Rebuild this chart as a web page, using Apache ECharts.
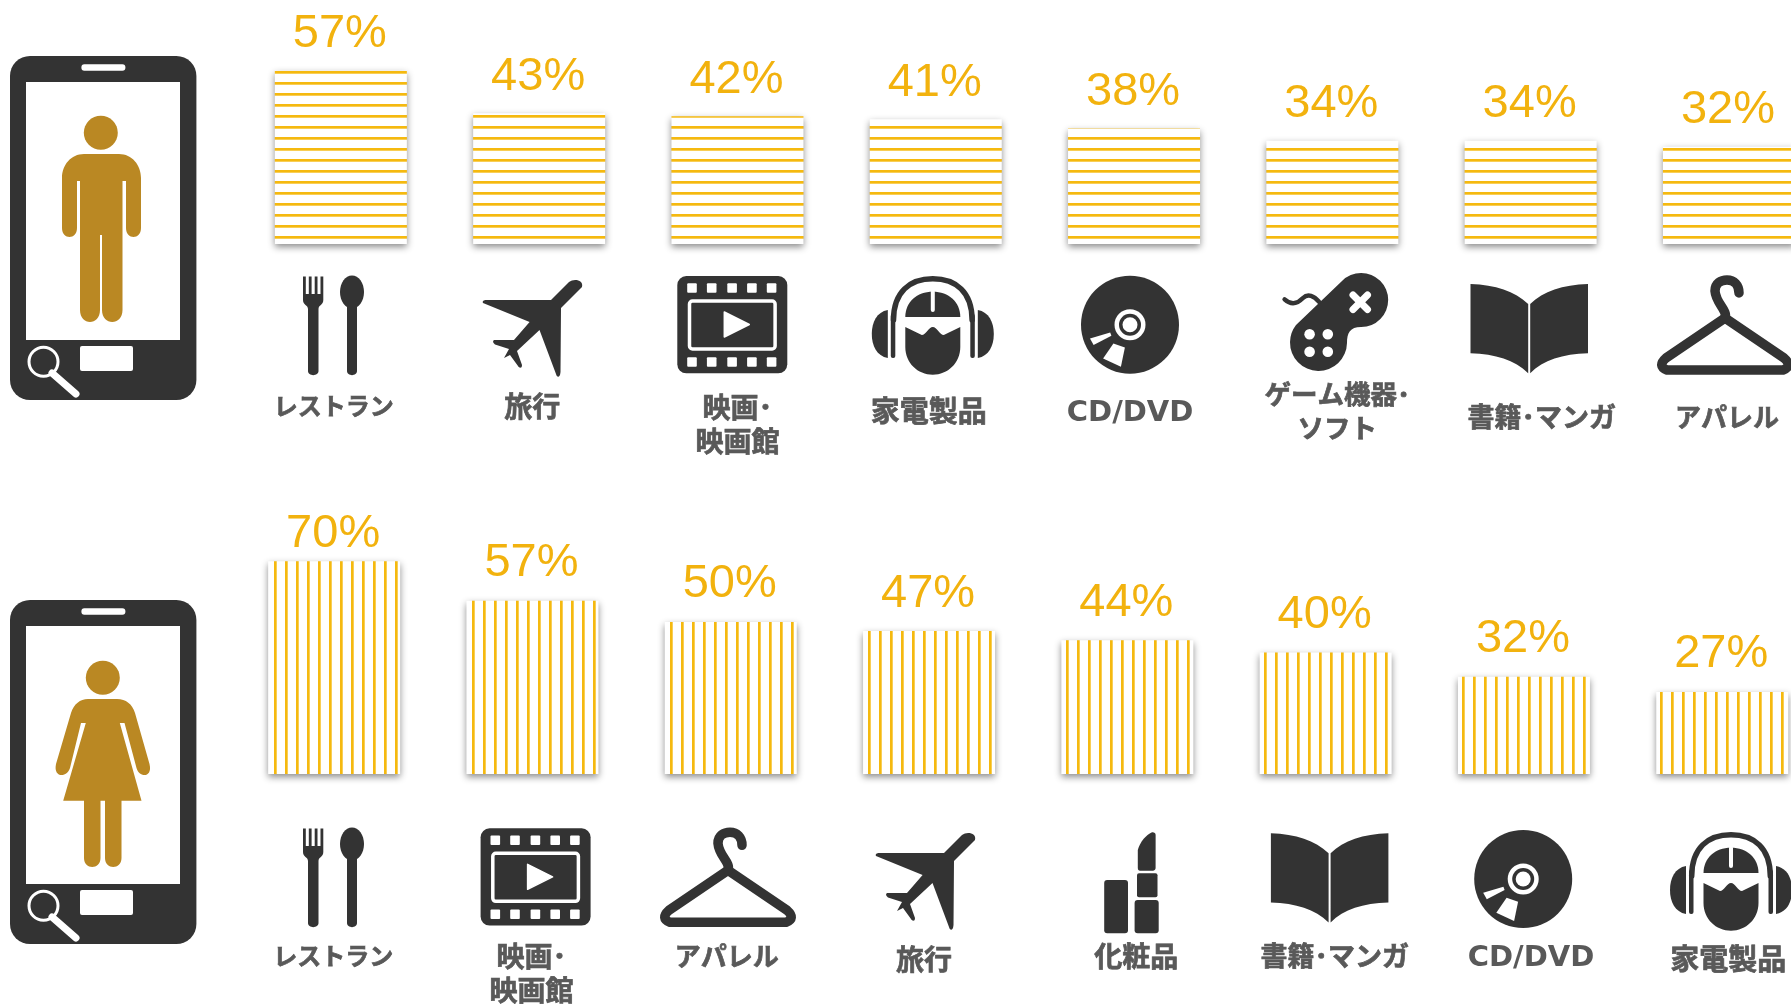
<!DOCTYPE html>
<html><head><meta charset="utf-8">
<style>html,body{margin:0;padding:0;background:#fff}#c{width:1791px;height:1004px}</style>
<script src="https://cdn.jsdelivr.net/npm/echarts@6/dist/echarts.min.js"></script>
</head><body><div id="c"></div>
<script>
// ---- data ----
const maleCategories = ['レストラン','旅行','映画･\n映画館','家電製品','CD/DVD','ゲーム機器･\nソフト','書籍･マンガ','アパレル'];
const maleValues = [57,43,42,41,38,34,34,32];
const femaleCategories = ['レストラン','映画･\n映画館','アパレル','旅行','化粧品','書籍･マンガ','CD/DVD','家電製品'];
const femaleValues = [70,57,50,47,44,40,32,27];

// ---- label tweaks: [dx, first-line centre y, font size] by label ----
const maleLabelLayout = [[-7,406,24],[-7,406,28],[0,407,28],[-7,411,29],[-4,413,29],[5,394,26.5],[11,417,27],[-2,417,26]];
const femaleLabelLayout = [[-1,956,24],[-1,956,28],[-4,956,26],[-5,959,28],[9,956,28],[9,956,27],[7,958,29],[6,959,29]];
const maleLabelGap = [13,13,13,13,13,13,13,13];
const femaleLabelGap = [4,14,14,14,14,14,14,14];

const DARK='#333333', GOLD='#BA8823', YEL='#F5B90F', LBL='#F2B20E', TXT='#595959';

function pattern(horizontal){
  const c=document.createElement('canvas');c.width=11;c.height=11;
  const g=c.getContext('2d');g.fillStyle='#fff';g.fillRect(0,0,11,11);g.fillStyle=YEL;
  if(horizontal){g.fillRect(0,5,11,2.7);}
  else{g.fillRect(10,0,1,11);g.fillRect(0,0,1.7,11);}
  return {image:c,repeat:'repeat'};
}
function catData(names,layout,axisY,margin){
  return names.map((n,i)=>{
    const [dx,cy,fs]=layout[i];
    const padTop=cy-17-axisY-margin;
    const isLatin=/^[A-Z\/]+$/.test(n);
    return {value:n,textStyle:{
      fontSize:fs,
      fontFamily:isLatin?'DejaVu Sans':'Noto Sans CJK JP',
      padding:[padTop,dx<0?-2*dx:0,0,dx>0?2*dx:0],
      textBorderColor:TXT,textBorderWidth:isLatin?0:0.7
    }};
  });
}
function xAxis(gridIndex,names,layout,axisY){
  return {type:'category',gridIndex,data:catData(names,layout,axisY,100),
    axisLine:{show:false},axisTick:{show:false},splitLine:{show:false},
    axisLabel:{show:true,interval:0,margin:100,color:TXT,fontWeight:'bold',lineHeight:34,align:'center',verticalAlign:'top',hideOverlap:false}};
}
function yAxis(gridIndex){return {type:'value',gridIndex,min:0,max:80,show:false};}
function series(i,values,horizontal,gaps){
  return {type:'bar',xAxisIndex:i,yAxisIndex:i,
    data:values.map((v,k)=>({value:v,label:{distance:gaps[k]}})),
    barWidth:132,animation:false,silent:true,
    itemStyle:{color:pattern(horizontal),shadowColor:'rgba(0,0,0,0.45)',shadowBlur:7,shadowOffsetY:3},
    label:{show:true,position:'top',offset:[-1,0],formatter:'{c}%',fontFamily:'Liberation Sans',fontSize:47,color:LBL}};
}

// ---- icons ----
let shapeNo=0;
function pathType(d){
  const name='iconPath'+(shapeNo++);
  echarts.graphic.registerShape(name,echarts.graphic.extendPath(d,{}));
  return name;
}
const dark=(d,extra)=>({type:pathType(d),style:Object.assign({fill:DARK},extra||{})});
const white=(d)=>({type:pathType(d),style:{fill:'#fff'}});
const line=(d,w,color)=>({type:pathType(d),style:{fill:null,stroke:color||DARK,lineWidth:w,lineCap:'round',lineJoin:'round'}});
const rect=(x,y,w,h,r,fill)=>({type:'rect',shape:{x,y,width:w,height:h,r},style:{fill}});
const circ=(cx,cy,r,fill)=>({type:'circle',shape:{cx,cy,r},style:{fill}});
const grp=(x,y,children)=>({type:'group',x,y,children,silent:true});

function phone(y,figure){
  return grp(0,y,[
    rect(10,0,186.4,344,20,DARK),
    rect(81.4,8.3,44,6.4,3,'#fff'),
    rect(26,26,154,258,0,'#fff'),
    rect(80,290,53,25,2,'#fff'),
    {type:'circle',shape:{cx:43.5,cy:305.7,r:14.5},style:{fill:DARK,stroke:'#fff',lineWidth:3}},
    line('M52 317 L76 338',7,'#fff'),
    figure
  ]);
}
const man=dark('M84 98 L119 98 C132 98 141 109 141 122 L141 172 C141 184 126 184 126 172 L126 125 L122.5 125 L122.5 254 C122.5 270 102 270 102 254 L102 179 L100 179 L100 254 C100 270 80 270 80 254 L80 125 L77 125 L77 172 C77 184 62 184 62 172 L62 122 C62 109 71 98 84 98 Z',{fill:GOLD});
const manHead=circ(100.8,76.7,17,GOLD);
const woman=dark('M88 99 L117 99 C126 99 132 104 135 113 L149.5 164 C153 178 139 178 136.5 168 L124.5 123 L119.8 123 L141.5 200.7 L121.5 200.7 L121.5 258 C121.5 270 105 270 105 258 L105 200.7 L100.5 200.7 L100.5 258 C100.5 270 84 270 84 258 L84 200.7 L63.2 200.7 L85.8 123 L81 123 L70 168 C67 178 53 178 56 164 L71 113 C74 104 80 99 88 99 Z',{fill:GOLD});

function cutlery(x,y){return grp(x,y,[
  dark('M0 .5 L2.8 .5 L2.8 18 L5.8 18 L5.8 .5 L8.6 .5 L8.6 18 L11.7 18 L11.7 .5 L14.5 .5 L14.5 18 L17.5 18 L17.5 .5 L20.3 .5 L20.3 24 C20.3 29 15.5 29 15.5 33 L15.5 95 C15.5 100.5 5 100.5 5 95 L5 33 C5 29 0 29 0 24 Z'),
  {type:'ellipse',shape:{cx:49,cy:16,rx:12,ry:16.5},style:{fill:DARK}},
  dark('M44 26 L54 26 L54 95 C54 100.5 44 100.5 44 95 Z')
]);}
function plane(x,y){return grp(x,y,[
  dark('M0 23 C-1 21 1 20 3 20 L68 20 L86 2 C91 -2 101 0 99 7 L78 28 L77.5 92 C77 98 74 98 73 94 L56.5 50 L34 71 L39 85 C39 89 36 88 35 86 L27 75 L21 78 L26 69 L12 64.5 C9 62 10 60 12 60 L31 60 L46.6 42 Z')
]);}
function film(x,y){
  const holes=[9.9,29.6,50,69.8,89.5];
  return grp(x,y,[
    rect(0,0,110,97.3,9,DARK),
    ...holes.map(h=>rect(h,7.3,9.6,9.4,1,'#fff')),
    ...holes.map(h=>rect(h,81.3,9.6,9.4,1,'#fff')),
    {type:'rect',shape:{x:12.2,y:25,width:85.6,height:48,r:3},style:{fill:null,stroke:'#fff',lineWidth:3.5}},
    {type:pathType('M47 36 L72 48.5 L47 61 Z'),style:{fill:'#fff',stroke:'#fff',lineWidth:1.5,lineJoin:'round'}}
  ]);
}
function phones(x,y){return grp(x,y,[
  line('M21.7 44 C21.7 16 38 2.75 61 2.75 C84 2.75 100.3 16 100.3 44',5.5),
  dark('M16 34 C5 36 0 46 0 58 C0 70 5 80 16 82 Z'),
  dark('M106 34 C117 36 122 46 122 58 C122 70 117 80 106 82 Z'),
  rect(19,38,4.5,44,2,DARK),rect(98.5,38,4.5,44,2,DARK),
  dark('M33.5 41 C33.5 26 45 15.7 61 15.7 C77 15.7 88.5 26 88.5 41 Z'),
  rect(59,14,4,22,2,'#fff'),
  dark('M33.5 51 L50 59 C54 59 57 51 61 51 C65 51 68 59 72 59 L88.5 51 L88.5 71 C88.5 87 76 98.7 61 98.7 C46 98.7 33.5 87 33.5 71 Z')
]);}
function disc(cx,cy){return grp(cx,cy,[
  circ(0,0,49,DARK),circ(0,0,15.5,'#fff'),circ(0,0,11,DARK),circ(0,0,7.5,'#fff'),
  white('M-40 13.7 L-19.8 7.7 L-18.6 11 L-36.4 20.3 Z'),
  white('M-16.6 18.7 L-5.1 22.7 L-9.1 42 L-26.9 33.7 Z')
]);}
function book(x,y){return grp(x,y,[
  dark('M0 0 C25 1 44 7 57.7 20 L57.7 89.3 C44 76 25 70 0 69.3 Z'),
  dark('M59.7 20 C73 7 92 1 117.5 0 L117.5 69.3 C92 70 73 76 59.7 89.3 Z')
]);}
function hanger(x,y){return grp(x,y,[
  line('M0 42 L-59 82 Q-68 90 -58 94 L58 94 Q68 90 59 82 Z',9.5),
  line('M0 42 C3 34 -9 28 -10 15 C-10 7 -4 4 2 4 C9 4 14 9 14 17',9.5)
]);}
const controller=grp(0,0,[
  dark('M1342 281 A27 27 0 1 1 1361 327 C1350 327 1347 333 1347 343 A28.5 28.5 0 1 1 1296 325 Z'),
  line('M1284.6 299.3 C1292 306 1298 303 1303 298 C1308 293 1314 296 1319 301.7',4.5),
  line('M1353 295 L1367.5 309.5',7,'#fff'),line('M1367.5 295 L1353 309.5',7,'#fff'),
  circ(1309.6,334.3,5.3,'#fff'),circ(1327.8,334.3,5.3,'#fff'),circ(1309.6,351.7,5.3,'#fff'),circ(1327.8,351.7,5.3,'#fff')
]);
const lipstick=grp(0,0,[
  rect(1104.2,880,23.8,53.3,3,DARK),
  rect(1137,873.3,20.5,24,2,DARK),
  rect(1134.6,900,24.1,33.3,3,DARK),
  dark('M1137.8 850 C1140 842 1146 835 1152 832.3 C1154 832 1155.6 833 1155.6 835 L1155.6 868 C1155.6 870 1154 870.7 1153 870.7 L1140 870.7 C1138.6 870.7 1137.8 870 1137.8 868 Z')
]);

const option={
  animation:false,backgroundColor:'#fff',
  grid:[
    {left:241.7,top:0.8,width:1586.4,height:243.2,containLabel:false,outerBoundsMode:'none'},
    {left:235,top:530.8,width:1586.4,height:243.2,containLabel:false,outerBoundsMode:'none'}
  ],
  xAxis:[xAxis(0,maleCategories,maleLabelLayout,244),xAxis(1,femaleCategories,femaleLabelLayout,774)],
  yAxis:[yAxis(0),yAxis(1)],
  series:[series(0,maleValues,true,maleLabelGap),series(1,femaleValues,false,femaleLabelGap)],
  graphic:[
    phone(56,grp(0,0,[man,manHead])),
    phone(600,grp(0,0,[woman,circ(102.8,77.7,17,GOLD)])),
    cutlery(303,276),plane(483,280),film(677.3,276),phones(871.8,276),disc(1130,324.7),controller,book(1470.5,284),hanger(1725,276),
    cutlery(303,828),film(480.6,828.3),hanger(728,828.3),plane(876,833),lipstick,book(1270.9,833.3),disc(1523.2,879),phones(1670,832)
  ]
};
const chart=echarts.init(document.getElementById('c'),null,{renderer:'canvas',width:1791,height:1004});
chart.setOption(option);
</script></body></html>
